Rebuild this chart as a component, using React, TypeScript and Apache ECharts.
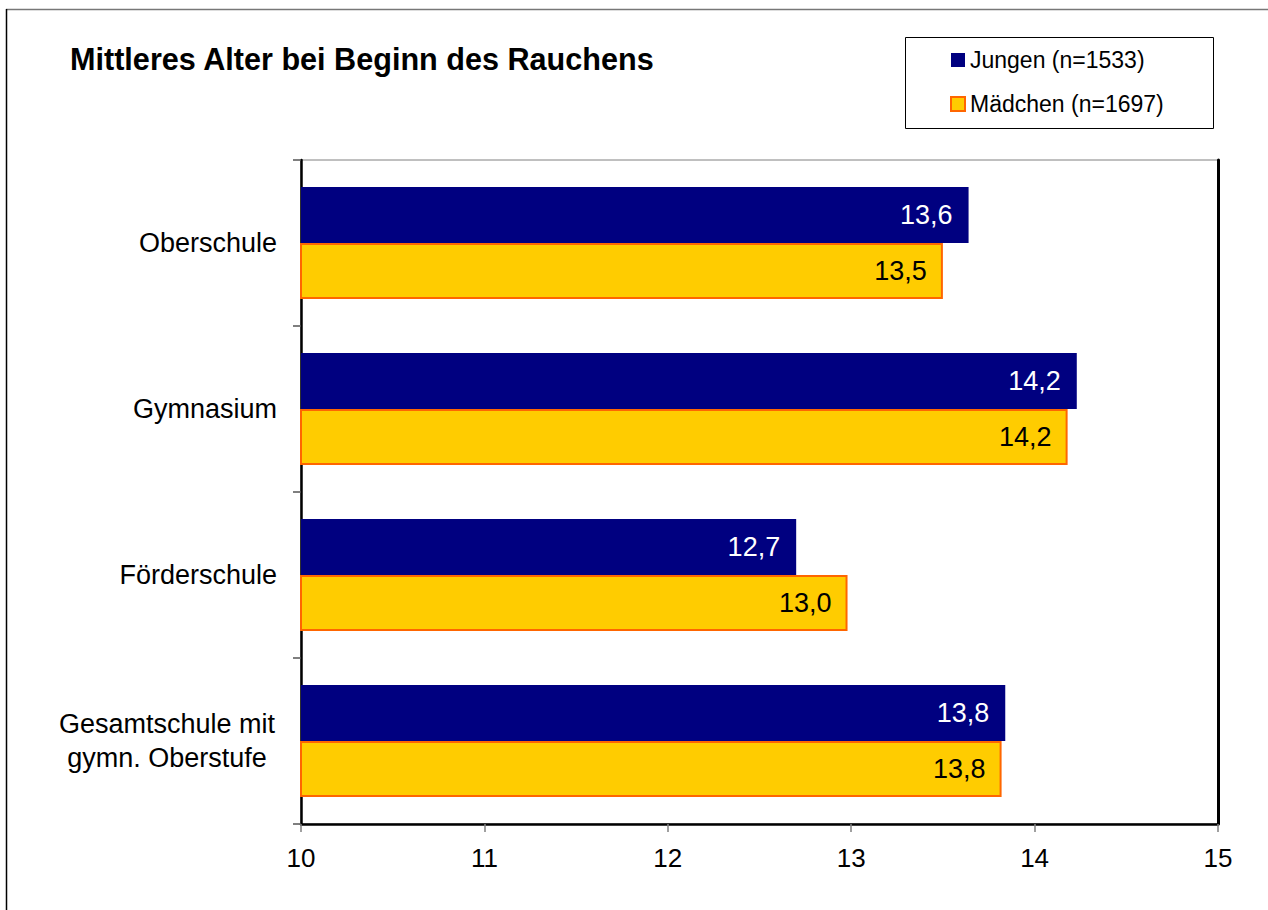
import React, { useEffect, useRef } from "react";
import * as echarts from "echarts";

const categories = ["Oberschule", "Gymnasium", "Förderschule", "Gesamtschule mit\ngymn. Oberstufe"];
const jungenValues = [13.64, 14.23, 12.7, 13.84];
const maedchenValues = [13.5, 14.18, 12.98, 13.82];
const seriesNames = ["Jungen (n=1533)", "Mädchen (n=1697)"];
const titleText = "Mittleres Alter bei Beginn des Rauchens";
const xMin = 10;
const xMax = 15;
const xInterval = 1;

const FONT = "Arial, 'Liberation Sans', sans-serif";

const fmt = (v: number) => v.toFixed(1).replace(".", ",");

export default function App() {
  const ref = useRef<HTMLDivElement>(null);
  useEffect(() => {
    if (!ref.current) return;
    const chart = echarts.init(ref.current, undefined, { renderer: "svg" });
    chart.setOption({
      animation: false,
      backgroundColor: "#ffffff",
      title: {
        text: titleText,
        left: 70,
        top: 43,
        padding: 0,
        textStyle: { fontFamily: FONT, fontSize: 30.6, fontWeight: "bold", color: "#000" },
      },
      graphic: [
        { type: "line", shape: { x1: 6, y1: 9.5, x2: 1268, y2: 9.5 }, style: { stroke: "#777", lineWidth: 1.5 } },
        { type: "line", shape: { x1: 6.5, y1: 9, x2: 6.5, y2: 910 }, style: { stroke: "#000", lineWidth: 1.5 } },
        {
          type: "rect",
          z: 0,
          shape: { x: 905.5, y: 37.5, width: 308, height: 91 },
          style: { fill: "#fff", stroke: "#000", lineWidth: 1 },
        },
      ],
      legend: {
        orient: "vertical",
        left: 950,
        top: 48,
        padding: 0,
        itemWidth: 14,
        itemHeight: 14,
        itemGap: 20,
        icon: "rect",
        z: 10,
        textStyle: { fontFamily: FONT, fontSize: 23, lineHeight: 24, color: "#000" },
        data: seriesNames,
      },
      grid: {
        left: 301,
        top: 160,
        right: 50,
        bottom: 86,
        show: true,
        borderColor: "#808080",
        borderWidth: 1,
        containLabel: false,
      },
      xAxis: {
        type: "value",
        min: xMin,
        max: xMax,
        interval: xInterval,
        axisLine: { show: true, lineStyle: { color: "#000", width: 2.5 } },
        axisTick: { show: true, length: 8, lineStyle: { color: "#808080", width: 1.5 } },
        splitLine: { show: false },
        axisLabel: { fontFamily: FONT, fontSize: 26, color: "#000", margin: 21 },
      },
      yAxis: [
        {
          type: "category",
          data: categories,
          inverse: true,
          axisLine: { show: true, lineStyle: { color: "#000", width: 2.5 } },
          axisTick: { show: true, length: 8, lineStyle: { color: "#555", width: 1.5 } },
          axisLabel: {
            fontFamily: FONT,
            fontSize: 27,
            color: "#000",
            margin: 24,
            lineHeight: 34,
            formatter: (v: string) =>
              v.indexOf("\n") >= 0
                ? v
                    .split("\n")
                    .map((s) => "{c|" + s + "}")
                    .join("\n")
                : v,
            rich: {
              c: { fontFamily: FONT, fontSize: 27, color: "#000", width: 220, align: "center", lineHeight: 34 },
            },
          },
        },
        {
          type: "category",
          data: categories,
          inverse: true,
          position: "right",
          axisLine: { show: true, lineStyle: { color: "#000", width: 3 } },
          axisTick: { show: false },
          axisLabel: { show: false },
        },
      ],
      series: [
        {
          name: seriesNames[0],
          type: "bar",
          data: jungenValues,
          barWidth: 56,
          barGap: "0%",
          itemStyle: { color: "#000080" },
          label: {
            show: true,
            position: "insideRight",
            distance: 16,
            fontFamily: FONT,
            fontSize: 27,
            color: "#fff",
            formatter: (p: any) => fmt(p.value),
          },
        },
        {
          name: seriesNames[1],
          type: "bar",
          data: maedchenValues,
          barWidth: 56,
          barGap: "0%",
          itemStyle: { color: "#FFCC00", borderColor: "#FF6600", borderWidth: 2 },
          label: {
            show: true,
            position: "insideRight",
            distance: 16,
            fontFamily: FONT,
            fontSize: 27,
            color: "#000",
            formatter: (p: any) => fmt(p.value),
          },
        },
      ],
    });
    return () => chart.dispose();
  }, []);
  return (
    <div
      ref={ref}
      style={{ position: "absolute", left: 0, top: 0, width: 1268, height: 910 }}
    />
  );
}
